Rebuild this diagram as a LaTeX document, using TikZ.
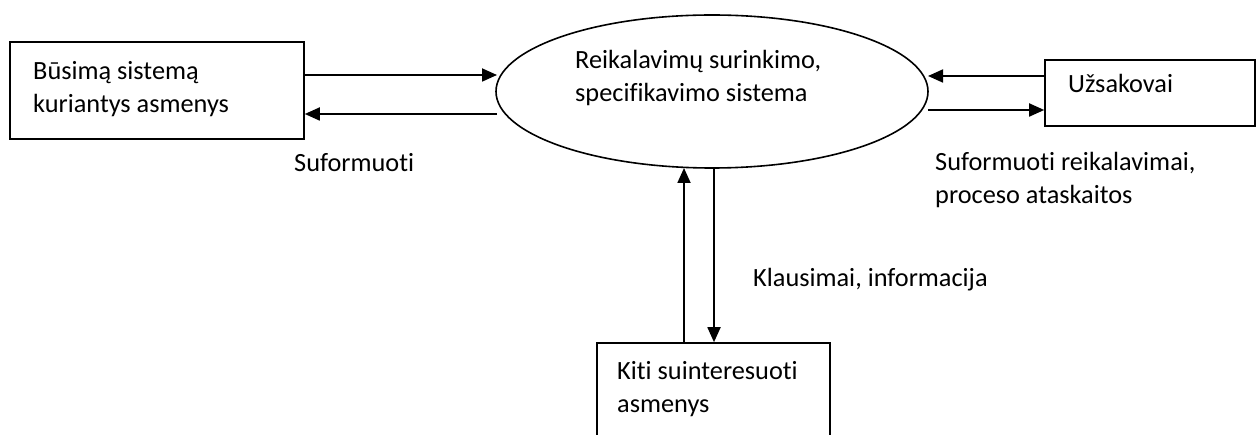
\documentclass[tikz,border=0pt]{standalone}
\usepackage{fontspec}
\setmainfont[Ligatures=CommonOff]{Carlito}
\usetikzlibrary{arrows.meta,shapes.geometric}
\begin{document}
\begin{tikzpicture}[x=1pt,y=-1pt,
  box/.style={draw,line width=1.6pt,inner sep=0pt},
  ell/.style={draw,ellipse,line width=1.6pt,inner sep=0pt},
  lbl/.style={anchor=base west,inner sep=0pt,align=left,font=\fontsize{26.3}{33}\selectfont},
  flow/.style={line width=1.8pt,-{Triangle[length=15pt,width=13pt]}}]
\useasboundingbox (0,0) rectangle (1257,435);
% shapes
\node[box,minimum width=294pt,minimum height=97pt] (dev) at (157,90.5) {};
\node[ell,minimum width=432pt,minimum height=153pt] (sys) at (712,91.5) {};
\node[box,minimum width=210pt,minimum height=66pt] (cust) at (1150,93) {};
\node[box,minimum width=233pt,minimum height=120pt] (oth) at (713.5,403) {};
% texts
\node[lbl] (tdev) at (33,113) {Būsimą sistemą\\kuriantys asmenys};
\node[lbl] (tsys) at (575,102) {Reikalavimų surinkimo,\\specifikavimo sistema};
\node[lbl] (tcust) at (1068,93) {Užsakovai};
\node[lbl] (toth) at (617,412) {Kiti suinteresuoti\\asmenys};
\node[lbl] (l1) at (294,172) {Suformuoti};
\node[lbl] (l2) at (935,204) {Suformuoti reikalavimai,\\proceso ataskaitos};
\node[lbl] (l3) at (753,287) {Klausimai, informacija};
% connectors
\coordinate (a1s) at (dev.east |- 0,75);
\coordinate (a1e) at (497,75);
\coordinate (a2s) at (497,114);
\coordinate (a2e) at (dev.east |- 0,114);
\draw[flow] (a1s) -- (a1e);
\draw[flow] (a2s) -- (a2e);
\coordinate (b1s) at (cust.west |- 0,76);
\coordinate (b1e) at (928,76);
\coordinate (b2s) at (928,110);
\coordinate (b2e) at (cust.west |- 0,110);
\draw[flow] (b1s) -- (b1e);
\draw[flow] (b2s) -- (b2e);
\coordinate (c1s) at (684,0 |- oth.north);
\coordinate (c1e) at (684,168);
\coordinate (c2s) at (714,168);
\coordinate (c2e) at (714,0 |- oth.north);
\draw[flow] (c1s) -- (c1e);
\draw[flow] (c2s) -- (c2e);
\end{tikzpicture}
\end{document}
